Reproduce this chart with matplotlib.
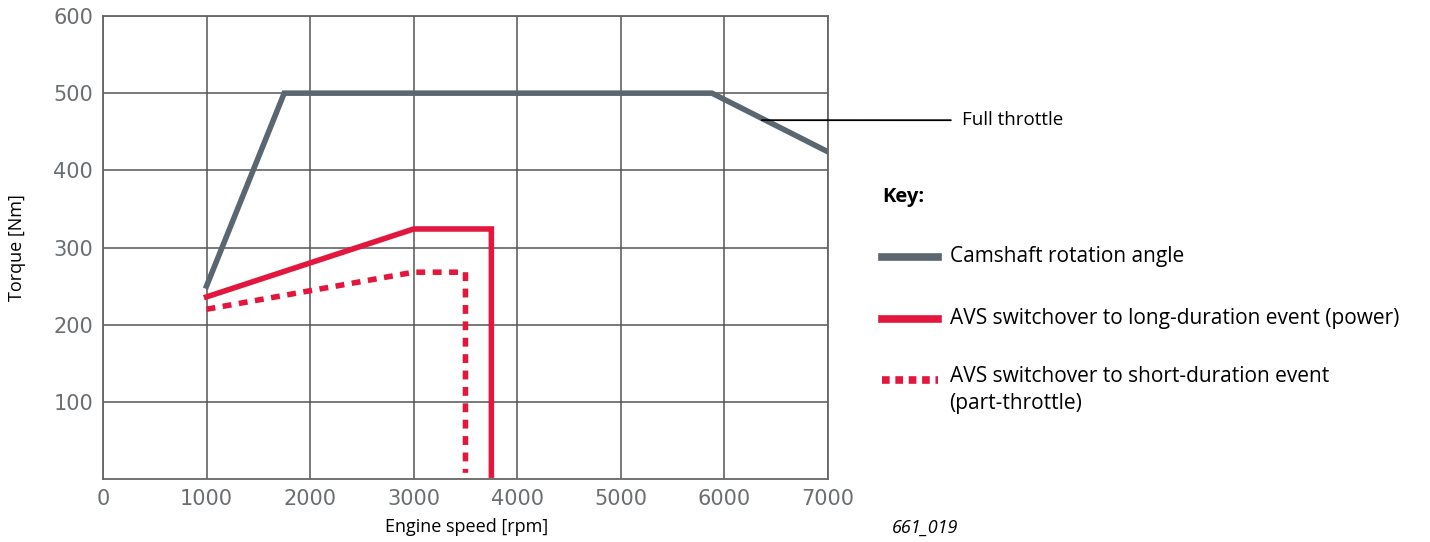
import matplotlib.pyplot as plt
from matplotlib.lines import Line2D

# torque curves
cam_rpm = [1000, 1750, 5880, 7000]
cam_torque = [250, 500, 500, 424]

long_rpm = [1000, 3000, 3750, 3750]
long_torque = [236, 324, 324, 5]

short_rpm = [1000, 3000, 3500, 3500]
short_torque = [220, 268, 268, 8]

x_ticks = [0, 1000, 2000, 3000, 4000, 5000, 6000, 7000]
y_ticks = [100, 200, 300, 400, 500, 600]

labels = ["Camshaft rotation angle",
          "AVS switchover to long-duration event (power)",
          "AVS switchover to short-duration event\n(part-throttle)"]

grey = '#5a6670'
red = '#e3173e'
txt_font = ['Open Sans', 'DejaVu Sans']

fig = plt.figure(figsize=(14.3, 5.42), dpi=100)
ax = fig.add_axes([0.072, 0.1162, 0.507, 0.8543])

ax.plot(cam_rpm, cam_torque, color=grey, lw=4, solid_joinstyle='miter', zorder=3)
ax.plot(long_rpm, long_torque, color=red, lw=4, solid_joinstyle='miter', zorder=3)
ax.plot(short_rpm, short_torque, color=red, lw=4, dashes=(1.6, 1.35), zorder=3)

ax.set_xlim(0, 7000)
ax.set_ylim(0, 600)
ax.set_xticks(x_ticks)
ax.set_yticks(y_ticks)
ax.grid(True, color='#555555', lw=1.1)
for s in ax.spines.values():
    s.set_color('#666666')
    s.set_linewidth(1.3)
ax.tick_params(length=0, labelsize=15, labelcolor='#6a6e70', pad=7)

fig.text(0.326, 0.027, "Engine speed [rpm]", ha='center', va='center',
         fontsize=13, family=txt_font)
fig.text(0.012, 0.544, "Torque [Nm]", ha='center', va='center', rotation=90,
         fontsize=13, family=txt_font)
fig.text(0.647, 0.027, "661_019", ha='center', va='center', style='italic',
         fontsize=13, family=txt_font)

# callout for full throttle curve
ax.annotate("Full throttle", xy=(6360, 465), xycoords='data',
            xytext=(0.6727, 0.7782), textcoords='figure fraction',
            fontsize=13.5, family=txt_font, va='center',
            arrowprops=dict(arrowstyle='-', color='black', lw=1.3,
                            shrinkA=6, shrinkB=0))

# key
fig.text(0.617, 0.636, "Key:", fontweight='bold', fontsize=14.5,
         family=txt_font, va='center')
key_y = [0.526, 0.412, 0.299]
styles = [dict(color=grey), dict(color=red), dict(color=red, dashes=(1, 0.75))]
for yk, lab, st in zip(key_y, labels, styles):
    fig.add_artist(Line2D([0.617, 0.656], [yk, yk], lw=5.5,
                          transform=fig.transFigure, **st))
    if '\n' in lab:
        fig.text(0.664, yk + 0.026, lab, fontsize=15, family=txt_font,
                 va='top', linespacing=1.4)
    else:
        fig.text(0.664, yk, lab, fontsize=15, family=txt_font, va='center')

plt.savefig("out.png", dpi=100)
